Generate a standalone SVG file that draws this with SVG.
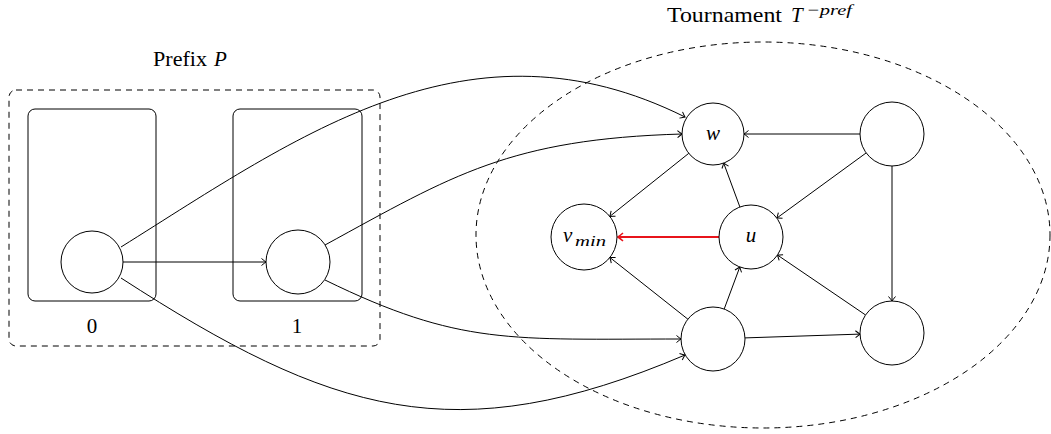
<svg xmlns="http://www.w3.org/2000/svg" width="1051" height="434" viewBox="0 0 1051 434">
<style>
  text { font-family: 'Liberation Serif', 'DejaVu Serif', serif; fill: #000; }
  .t { font-size: 21px; }
  .s { font-size: 15px; }
  .it { font-style: italic; }
  .node { fill: #fff; stroke: #000; stroke-width: 1; }
  .box { fill: none; stroke: #000; stroke-width: 1; }
  .dash { fill: none; stroke: #000; stroke-width: 1; stroke-dasharray: 6 5; }
  .edge { fill: none; stroke: #000; stroke-width: 1; marker-end: url(#arr); }
  .red { fill: none; stroke: #e8141b; stroke-width: 2; marker-end: url(#arrR); }
</style>
<defs>
  <marker id="arr" markerUnits="userSpaceOnUse" viewBox="-6 -5 8 10" refX="0" refY="0" markerWidth="8" markerHeight="10" orient="auto" overflow="visible">
    <path d="M-4.5,-3.5 Q-1.5,-1 0,0 Q-1.5,1 -4.5,3.5" fill="none" stroke="#000" stroke-width="1"/>
  </marker>
  <marker id="arrR" markerUnits="userSpaceOnUse" viewBox="-6 -5 8 10" refX="0" refY="0" markerWidth="8" markerHeight="10" orient="auto" overflow="visible">
    <path d="M-5,-4 Q-1.5,-1 0,0 Q-1.5,1 -5,4" fill="none" stroke="#e8141b" stroke-width="1.6"/>
  </marker>
</defs>

<rect width="1051" height="434" fill="#fff"/>

<g id="prefix">
  <rect class="dash" x="9" y="90" width="371" height="256" rx="7"/>
  <text class="t" x="153" y="66" textLength="54" lengthAdjust="spacingAndGlyphs">Prefix</text>
  <text class="t it" x="214" y="66" font-size="22">P</text>
</g>
<g id="slot0">
  <rect class="box" x="28" y="109" width="128" height="192" rx="7"/>
  <text class="t" x="92" y="333" text-anchor="middle">0</text>
</g>
<g id="slot1">
  <rect class="box" x="233" y="109" width="129" height="192" rx="7"/>
  <text class="t" x="297" y="333" text-anchor="middle">1</text>
</g>
<g id="tournament">
  <ellipse class="dash" cx="763" cy="235" rx="287" ry="193"/>
  <text class="t" x="667" y="22" textLength="115" lengthAdjust="spacingAndGlyphs">Tournament</text>
  <text class="t it" x="791" y="22">T</text>
  <text class="s it" x="806" y="15" textLength="46" lengthAdjust="spacingAndGlyphs">−pref</text>
</g>

<g id="connectors">
  <path class="edge" d="M123,262 L266,262"/>
  <path class="edge" d="M121,247 C300,135 470,10 685,117"/>
  <path class="edge" d="M325,245 C453,175 510,139 682,134"/>
  <path class="edge" d="M325,280 C460,346 510,339 681,339"/>
  <path class="edge" d="M121,278 C331,414 455,453 685,355"/>
  <path class="edge" d="M860,134 L744,134"/>
  <path class="edge" d="M688.8,153.3 L609.8,216.4"/>
  <path class="edge" d="M739.9,207 L723.7,163.1"/>
  <path class="edge" d="M866.2,152.9 L776.8,218.1"/>
  <path class="edge" d="M892,166 L892,301"/>
  <path class="red" d="M719,237 L618,237"/>
  <path class="edge" d="M687.9,319.2 L609.9,257.5"/>
  <path class="edge" d="M724.2,309 L739.8,267"/>
  <path class="edge" d="M865.6,315 L777.4,255"/>
  <path class="edge" d="M745,337.9 L860,334.1"/>
</g>

<g id="n0"><circle class="node" cx="92" cy="262" r="31"/></g>
<g id="n1"><circle class="node" cx="298" cy="262" r="32"/></g>
<g id="w"><circle class="node" cx="713" cy="134" r="31"/><text class="t it" x="713" y="140" text-anchor="middle">w</text></g>
<g id="tr"><circle class="node" cx="892" cy="134" r="32"/></g>
<g id="vmin"><circle class="node" cx="584" cy="237" r="33"/><text class="t it" x="563" y="242">v</text><text class="s it" x="575" y="246" textLength="31" lengthAdjust="spacingAndGlyphs">min</text></g>
<g id="u"><circle class="node" cx="751" cy="237" r="32"/><text class="t it" x="751" y="242" text-anchor="middle">u</text></g>
<g id="bot"><circle class="node" cx="713" cy="339" r="32"/></g>
<g id="br"><circle class="node" cx="892" cy="333" r="32"/></g>
</svg>
